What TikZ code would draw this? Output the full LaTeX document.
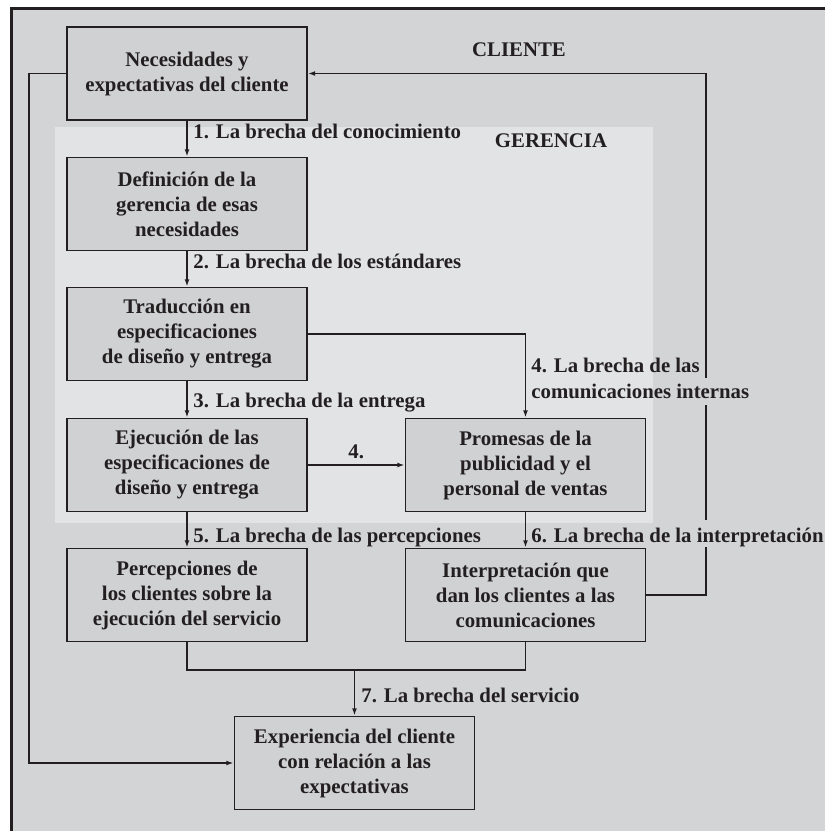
\documentclass[tikz,border=0pt]{standalone}
\usepackage{fontspec}
\setmainfont{Liberation Serif}
\usetikzlibrary{arrows.meta,positioning,calc}

\definecolor{ink}{RGB}{35,31,32}
\definecolor{kundegrau}{RGB}{211,212,214}
\definecolor{gerenzgrau}{RGB}{226,227,229}
\definecolor{kastengrau}{RGB}{208,209,211}

\begin{document}
\begin{tikzpicture}[x=0.5pt, y=-0.5pt,
    every node/.style={font=\bfseries\fontsize{10.4}{12.5}\selectfont, text=ink},
    kasten/.style={draw=ink, line width=0.9pt, fill=kastengrau, minimum width=120pt, minimum height=46.5pt, align=center, inner sep=2pt},
    pfeil/.style={draw=ink, line width=0.8pt, -{Latex[length=3.6pt,width=2.4pt]}},
    linie/.style={draw=ink, line width=0.8pt},
    marke/.style={anchor=base west, inner sep=0pt}
  ]
    % Rahmen
    \fill[white] (0,0) rectangle (825,831);
    \useasboundingbox (0,0) rectangle (825,831);
    \fill[kundegrau] (11.5,8) rectangle (825,831);
    \draw[ink, line width=1.5pt] (11.5,831) -- (11.5,8) -- (825,8);
    \fill[gerenzgrau] (55,127) rectangle (653,523);

    % Kaesten
    \node[kasten] (nec) at (187,73.5) {Necesidades y\\expectativas del cliente};
    \node[kasten] (defi) at (187,204) {Definición de la\\gerencia de esas\\necesidades};
    \node[kasten] (trad) at (187,334) {Traducción en\\especificaciones\\de diseño y entrega};
    \node[kasten] (ejec) at (187,465) {Ejecución de las\\especificaciones de\\diseño y entrega};
    \node[kasten] (prom) at (525.5,465) {Promesas de la\\publicidad y el\\personal de ventas};
    \node[kasten] (perc) at (187,595) {Percepciones de\\los clientes sobre la\\ejecución del servicio};
    \node[kasten] (inter) at (525.5,595) {Interpretación que\\dan los clientes a las\\comunicaciones};
    \node[kasten] (exper) at (354.5,763) {Experiencia del cliente\\con relación a las\\expectativas};

    % Bereiche
    \node[anchor=base] (cliente) at (519,56) {CLIENTE};
    \node[anchor=base] (gerencia) at (551,147) {GERENCIA};

    % Hilfspunkte
    \coordinate (links) at (29,0);
    \coordinate (rechts) at (706,0);
    \coordinate (knick) at (354.5,670);

    % Pfeile
    \draw[pfeil] (nec) -- (defi);
    \draw[pfeil] (defi) -- (trad);
    \draw[pfeil] (trad) -- (ejec);
    \draw[pfeil] (ejec) -- (perc);
    \draw[pfeil] (ejec) -- (prom);
    \draw[pfeil] (prom) -- (inter);
    \draw[pfeil] (trad.east) -| (prom.north);
    \draw[pfeil] (nec.west) -- (nec.west -| links) |- (exper.west);
    \draw[pfeil] (inter.east) -- (inter.east -| rechts) |- (nec.east);
    \draw[linie] (perc.south) |- (knick) -| (inter.south);
    \draw[pfeil] (knick) -- (exper.north);

    % Luecken
    \fill[kundegrau] (700,378) rectangle (712,405);
    \fill[kundegrau] (700,520) rectangle (712,547);

    % Brechen
    \node[marke] (b1) at (193,138) {1. La brecha del conocimiento};
    \node[marke] (b2) at (193,268) {2. La brecha de los estándares};
    \node[marke] (b3) at (193,407) {3. La brecha de la entrega};
    \node[marke] (b4) at (348,458) {4.};
    \node[marke, align=left, font=\bfseries\fontsize{10.4}{13}\selectfont] (b4i) at (531,398) {4. La brecha de las\\comunicaciones internas};
    \node[marke] (b5) at (193,542) {5. La brecha de las percepciones};
    \node[marke] (b6) at (531,542) {6. La brecha de la interpretación};
    \node[marke] (b7) at (361,702) {7. La brecha del servicio};
  \end{tikzpicture}
\end{document}
